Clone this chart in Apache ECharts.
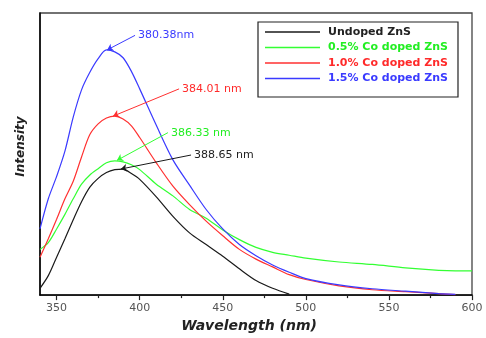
<!DOCTYPE html>
<html>
<head>
<meta charset="utf-8">
<script src="https://cdn.jsdelivr.net/npm/echarts@6/dist/echarts.min.js"></script>
<style>html,body{margin:0;padding:0;background:#fff}#chart{width:486px;height:338px}</style>
</head>
<body>
<div id="chart"></div>
<script>
const wavelengths = [340,345,350,355,360,365,370,375,380,385,390,395,400,410,420,430,440,450,460,470,480,490,500,520,540,560,580,590,600];
const undoped = [7,20,39,58,77.5,96,111,120,126,129,129.5,125,119,101,81,64,52,40,27,15,7,1,null,null,null,null,null,null,null];
const co05 = [47,54,68,83,99,114,123.5,130,136,138,137,134,129,114,102,88,79,67,57,49,44,41,38,34,31.5,28,25.5,25,25];
const co10 = [39,58,78,99,117,142,165,176,182,184,181,174,162,136,112,93,76,61,47,37,29,21,16,9.5,5.5,3.5,1.5,0.5,null];
const co15 = [68,99,122,148,183,211,229,243,252,250,244,230,212,174.5,139,113,88,68,52,40.5,31,23.5,17,10.5,6.5,4,1.5,0.7,null];
const seriesNames = ['Undoped ZnS','0.5% Co doped ZnS','1.0% Co doped ZnS','1.5% Co doped ZnS'];
const peakWavelengths = [388.65, 386.33, 384.01, 380.38];
const peakIntensities = [129.6, 138.5, 184, 252];
const peakLabels = ['388.65 nm','386.33 nm','384.01 nm','380.38nm'];
const labelAnchors = [[430.9,144],[417,167],[423.7,212],[397.2,267]];
const xTicks = [350,400,450,500,550,600];
const xMinorTicks = [375,425,475,525,575];

const lineColors = ['#1a1a1a','#33ff33','#ff3030','#3a3aff'];
const textColors = ['#222222','#22ee22','#ff2a2a','#3a3aff'];
const allValues = [undoped, co05, co10, co15];

function buildData(values){
  const pts = [];
  wavelengths.forEach((w,i)=>{ if(values[i]!==null) pts.push([w, values[i]]); });
  return pts;
}

const font = 'DejaVu Sans';
const series = seriesNames.map((name,i)=>({
  name: name,
  type: 'line',
  xAxisIndex: 0,
  data: buildData(allValues[i]),
  showSymbol: false,
  symbol: 'none',
  smooth: 0.3,
  color: lineColors[i],
  lineStyle: {color: lineColors[i], width: 1.2},
  markLine: {
    silent: true,
    symbol: ['none','arrow'],
    symbolSize: 6,
    label: {show: false},
    emphasis: {disabled: true},
    lineStyle: {color: lineColors[i], width: 1, type: 'solid'},
    data: [[{coord: labelAnchors[i]}, {coord: [peakWavelengths[i], peakIntensities[i]]}]]
  },
  markPoint: {
    silent: true,
    symbol: 'circle',
    symbolSize: 0,
    data: [{
      coord: labelAnchors[i],
      label: {show: true, position: 'right', distance: 3, formatter: peakLabels[i],
              color: textColors[i], fontSize: 11, fontFamily: font}
    }]
  }
}));

const chart = echarts.init(document.getElementById('chart'), null, {renderer: 'canvas'});
chart.setOption({
  animation: false,
  backgroundColor: '#fff',
  grid: {left: 40, right: 14, top: 13, bottom: 36, show: true, borderColor: '#444', borderWidth: 1.3},
  xAxis: [{
    type: 'value', min: 340, max: 600, position: 'bottom',
    axisLine: {show: true, onZero: false, lineStyle: {color: '#000', width: 1.5}},
    axisTick: {show: true, length: 5, customValues: xTicks, lineStyle: {color: '#222', width: 1.2}},
    axisLabel: {customValues: xTicks, color: '#555', fontSize: 11, fontFamily: font, margin: 8},
    splitLine: {show: false},
    name: 'Wavelength (nm)', nameLocation: 'middle', nameGap: 19,
    nameTextStyle: {fontFamily: font, fontWeight: 'bold', fontStyle: 'italic', fontSize: 14, color: '#222', padding: [0,14,0,0]}
  },{
    type: 'value', min: 340, max: 600, position: 'bottom',
    axisLine: {show: false},
    axisTick: {show: true, length: 3, customValues: xMinorTicks, lineStyle: {color: '#222', width: 1.2}},
    axisLabel: {show: false},
    splitLine: {show: false}
  }],
  yAxis: {
    type: 'value', min: 0, max: 290,
    axisLine: {show: true, lineStyle: {color: '#000', width: 1.5}},
    axisTick: {show: false}, axisLabel: {show: false}, splitLine: {show: false},
    name: 'Intensity', nameLocation: 'middle', nameGap: 13,
    nameTextStyle: {fontFamily: font, fontWeight: 'bold', fontStyle: 'italic', fontSize: 12, color: '#222', padding: [0,0,0,15]}
  },
  legend: {
    orient: 'vertical', left: 258, top: 22,
    backgroundColor: '#fff', borderColor: '#222', borderWidth: 1.2, borderRadius: 0,
    padding: [3.5, 10, 12, 7], itemGap: 2.5, itemWidth: 55, itemHeight: 1.5, icon: 'rect',
    textStyle: {fontFamily: font, fontWeight: 'bold', fontSize: 11, lineHeight: 13, padding: [0,0,0,3]},
    data: seriesNames.map((n,i)=>({name: n, textStyle: {color: textColors[i]}}))
  },
  series: series
});
</script>
</body>
</html>
